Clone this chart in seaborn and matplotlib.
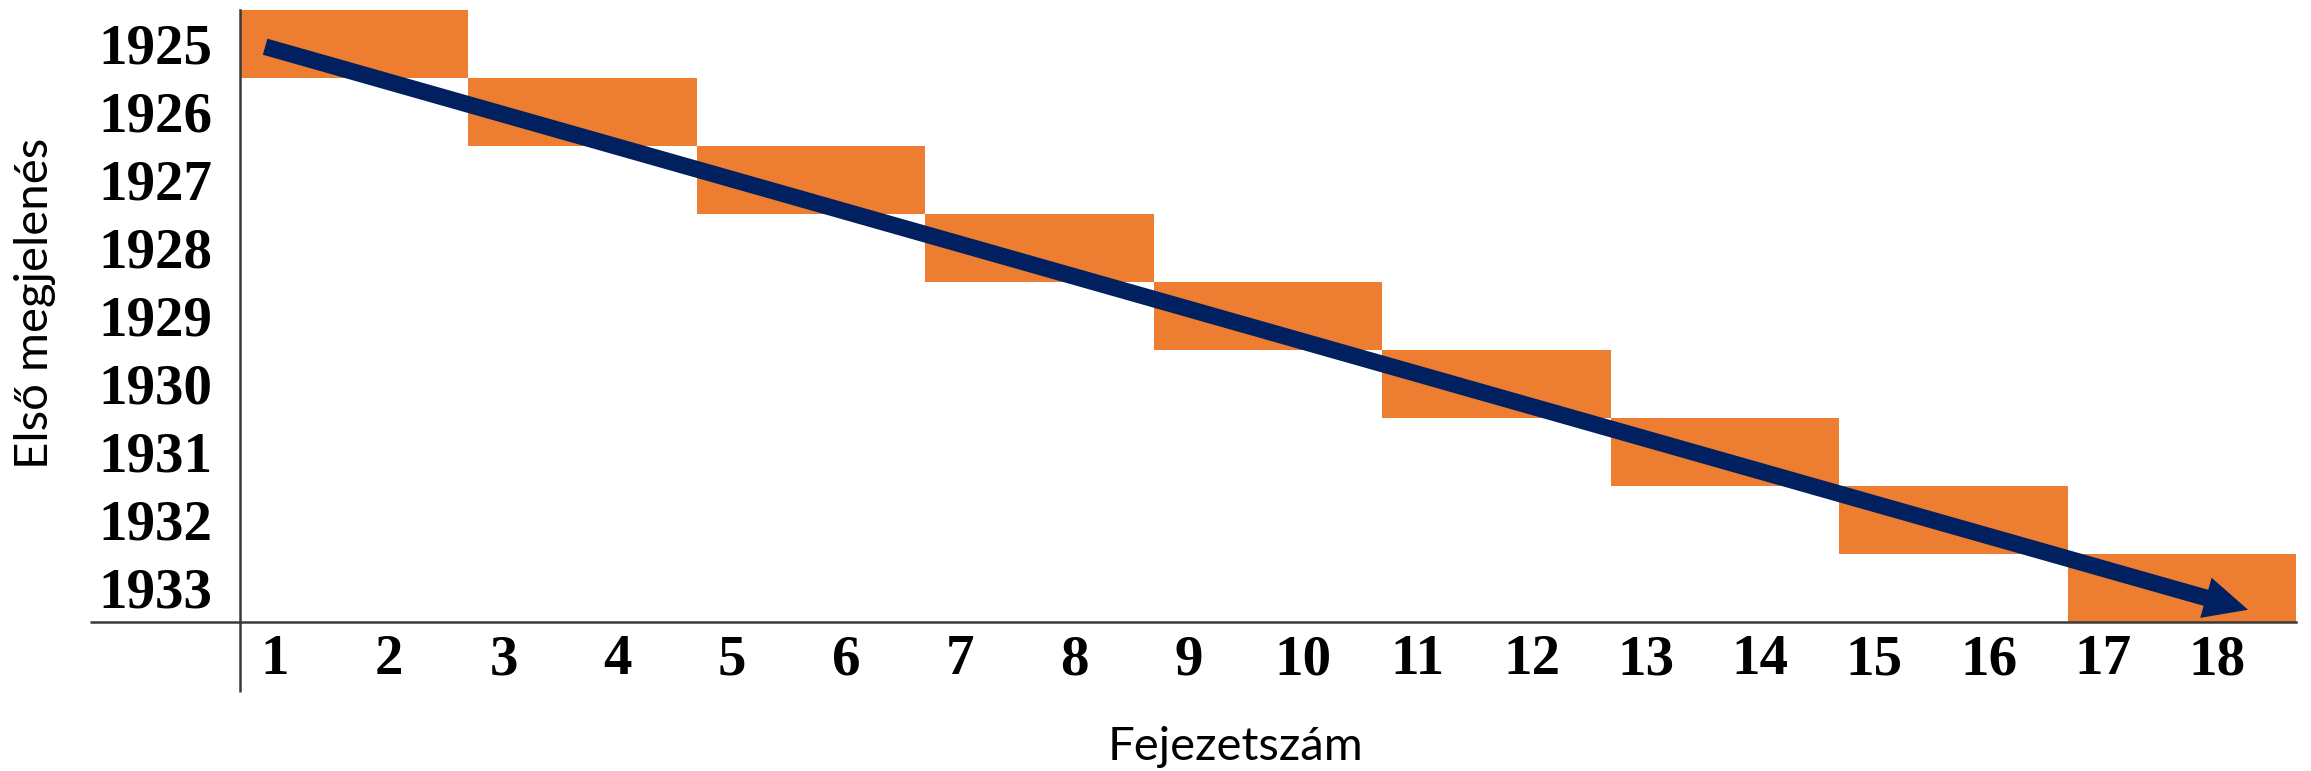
import matplotlib
matplotlib.use("Agg")
import matplotlib.pyplot as plt
import matplotlib.transforms as mtransforms
import seaborn as sns

# ---------------------------------------------------------
# DATA: which chapters first appeared in which year
# ---------------------------------------------------------
years = [1925, 1926, 1927, 1928, 1929, 1930, 1931, 1932, 1933]
first_chapter = [1, 3, 5, 7, 9, 11, 13, 15, 17]
chapter_count = [2, 2, 2, 2, 2, 2, 2, 2, 2]
chapters = list(range(1, 19))

# trend arrow (chapter, year) from start to tip
arrow_start = (0.72, 1925.04)
arrow_end = (18.08, 1933.32)

ORANGE = "#ED7D31"
NAVY = "#002060"
AXIS_GRAY = "#3a3a3a"

sns.set_style("white")
plt.rcParams["font.family"] = ["Lato", "DejaVu Sans"]

fig = plt.figure(figsize=(23.11, 7.71), dpi=100)
ax = fig.add_axes([240 / 2311, 149 / 771, 2056 / 2311, 612 / 771])

# staircase of blocks
lefts = [c - 0.5 for c in first_chapter]
ax.barh(years, width=chapter_count, left=lefts, height=1.0,
        color=ORANGE, linewidth=0, zorder=2)

# arrow showing the trend
ax.annotate("", xy=arrow_end, xytext=arrow_start,
            arrowprops=dict(arrowstyle="simple,head_length=1.05,head_width=1.0,tail_width=0.4",
                            mutation_scale=30, fc=NAVY, ec="none",
                            shrinkA=0, shrinkB=0),
            zorder=3)

ax.set_xlim(0.5, 18.5)
ax.set_ylim(1933.5, 1924.5)

# ticks
ax.set_xticks(chapters)
ax.set_xticklabels([str(c) for c in chapters])
ax.set_xticks([c + 0.5 for c in chapters[:-1]], minor=True)
ax.set_yticks(years)
ax.set_yticklabels([str(y) for y in years])
ax.tick_params(axis="x", which="major", length=0, pad=9)
ax.tick_params(axis="x", which="minor", length=4, width=1.6,
               color=AXIS_GRAY, direction="out")
ax.tick_params(axis="y", length=0, pad=20)
shift = mtransforms.ScaledTranslation(-22 / 100, 0, fig.dpi_scale_trans)
for lab in ax.get_xticklabels():
    lab.set_transform(lab.get_transform() + shift)
for lab in ax.get_xticklabels() + ax.get_yticklabels():
    lab.set_fontfamily(["Liberation Serif", "DejaVu Serif"])
    lab.set_fontweight("bold")
    lab.set_fontsize(41)
    lab.set_color("black")

# axes lines
sns.despine(ax=ax, top=True, right=True)
for side in ["left", "bottom"]:
    ax.spines[side].set_color(AXIS_GRAY)
    ax.spines[side].set_linewidth(1.8)
# extensions past the corner
ax.plot([-150 / 2056, 0], [0, 0], transform=ax.transAxes, clip_on=False,
        color=AXIS_GRAY, lw=1.8, solid_capstyle="butt")
ax.plot([0, 0], [-70 / 612, 0], transform=ax.transAxes, clip_on=False,
        color=AXIS_GRAY, lw=1.8, solid_capstyle="butt")

# axis titles
ax.set_xlabel("Fejezetszám", fontsize=34, color="black")
ax.xaxis.label.set_va("center")
ax.xaxis.set_label_coords(0.484, -0.204)
ax.set_ylabel("Első megjelenés", fontsize=34, color="black")
ax.yaxis.label.set_va("center")
ax.yaxis.set_label_coords(-0.0997, 0.52)

fig.savefig("out.png", dpi=100)
